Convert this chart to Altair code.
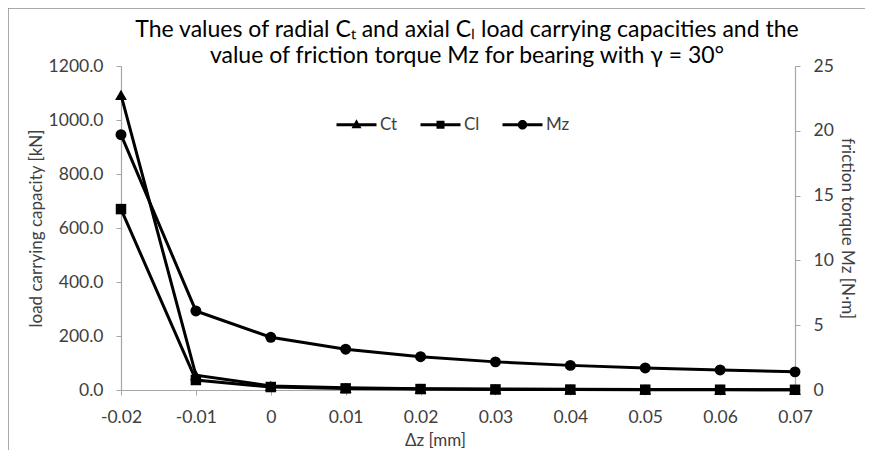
import altair as alt
import pandas as pd

# ---- data ----
x_labels = ["-0.02", "-0.01", "0", "0.01", "0.02", "0.03", "0.04", "0.05", "0.06", "0.07"]
ct_values = [1093, 55, 15, 8, 5, 3.5, 2.5, 2, 1.5, 1.2]
cl_values = [670, 37, 11, 6, 3.5, 2.2, 1.6, 1.2, 1.0, 0.8]
mz_values = [19.7, 6.1, 4.07, 3.15, 2.57, 2.17, 1.9, 1.7, 1.55, 1.4]
series_names = ["Ct", "Cl", "Mz"]
left_ticks = [0, 200, 400, 600, 800, 1000, 1200]
right_ticks = [0, 5, 10, 15, 20, 25]
title_lines = [
    "The values of radial Cₜ and axial  Cₗ load carrying capacities and the",
    "value of friction torque Mz for bearing with γ = 30°",
]

FONT = "Lato"
AXIS_GRAY = "#a6a6a6"
TEXT = "#404040"

left_df = pd.DataFrame({
    "dz": x_labels * 2,
    "series": ["Ct"] * len(x_labels) + ["Cl"] * len(x_labels),
    "value": ct_values + cl_values,
})
mz_df = pd.DataFrame({"dz": x_labels, "series": "Mz", "value": mz_values})
# rows only used to build the legend (placed outside the y domain and clipped)
legend_df = pd.DataFrame({"dz": x_labels[:3], "series": series_names, "value": [-5000] * 3})

x_enc = alt.X(
    "dz:N", sort=x_labels,
    scale=alt.Scale(type="point", padding=0),
    axis=alt.Axis(title="Δz [mm]", labelAngle=0, titlePadding=7, titleX=314),
)
y_left = alt.Y(
    "value:Q",
    scale=alt.Scale(domain=[0, 1200]),
    axis=alt.Axis(orient="left", values=left_ticks, format=".1f",
                  title="load carrying capacity [kN]", titlePadding=3),
)
y_right = alt.Y(
    "value:Q",
    scale=alt.Scale(domain=[0, 25]),
    axis=alt.Axis(orient="right", values=right_ticks, format="d",
                  title="friction torque Mz [N·m]", titlePadding=4),
)

left_lines = alt.Chart(left_df).mark_line(color="black", strokeWidth=3).encode(
    x=x_enc, y=y_left, detail="series:N")
pts_ct = alt.Chart(left_df).transform_filter(alt.datum.series == "Ct").mark_point(
    shape="triangle-up", filled=True, color="black", size=140, opacity=1).encode(x=x_enc, y=y_left)
pts_cl = alt.Chart(left_df).transform_filter(alt.datum.series == "Cl").mark_point(
    shape="square", filled=True, color="black", size=110, opacity=1).encode(x=x_enc, y=y_left)

# legend symbols: a filled bar (the line) plus the marker, all clockwise
legend_paths = [
    "M-4,-0.3H4V0.3H-4ZM0,-1.1L1,0.7H-1Z",
    "M-4,-0.3H4V0.3H-4ZM-0.8,-0.8H0.8V0.8H-0.8Z",
    "M-4,-0.3H4V0.3H-4ZM-0.95,0A0.95,0.95 0 1,1 0.95,0A0.95,0.95 0 1,1 -0.95,0Z",
]
legend_layer = alt.Chart(legend_df).mark_point(
    filled=True, color="black", clip=True, opacity=1
).encode(
    x=x_enc, y=y_left,
    shape=alt.Shape("series:N",
                    scale=alt.Scale(domain=series_names, range=legend_paths),
                    legend=alt.Legend(orient="none", legendX=227, legendY=50,
                                      direction="horizontal", title=None,
                                      symbolSize=100, symbolStrokeWidth=0,
                                      symbolFillColor="black",
                                      labelFont=FONT, labelFontSize=17, labelColor=TEXT,
                                      labelOffset=15, columnPadding=22, padding=0)),
)

left = alt.layer(left_lines, pts_ct, pts_cl, legend_layer)

mz_line = alt.Chart(mz_df).mark_line(color="black", strokeWidth=3).encode(x=x_enc, y=y_right)
pts_mz = alt.Chart(mz_df).mark_point(shape="circle", filled=True, color="black",
                                     size=120, opacity=1).encode(x=x_enc, y=y_right)
right = alt.layer(mz_line, pts_mz)

one = alt.Data(values=[{"k": 1}])
border_left = alt.Chart(one).mark_rule(color="#8c8c8c", strokeWidth=1.5).encode(
    x=alt.value(-113), y=alt.value(-58), y2=alt.value(440))
border_top = alt.Chart(one).mark_rule(color="#8c8c8c", strokeWidth=1.5).encode(
    x=alt.value(-113), x2=alt.value(800), y=alt.value(-58))
chart_title = alt.Chart(one).mark_text(
    font=FONT, fontSize=23, fontWeight="normal", color="black", align="center",
    baseline="alphabetic", lineHeight=26,
).encode(x=alt.value(346), y=alt.value(-29), text=alt.value(title_lines))

chart = alt.layer(left, right, border_left, border_top, chart_title).resolve_scale(
    y="independent", shape="independent"
).properties(
    width=674, height=324,
    autosize=alt.AutoSizeParams(type="none"),
    padding={"left": 113, "top": 58, "right": 70, "bottom": 62},
).configure_view(stroke=None).configure_axis(
    grid=False, domainColor=AXIS_GRAY, tickColor=AXIS_GRAY, domainWidth=1.2,
    labelColor=TEXT, titleColor=TEXT, labelFont=FONT, titleFont=FONT,
    labelFontSize=17.5, titleFontSize=17, titleFontWeight="normal",
    tickSize=5, labelPadding=13,
)

chart.save("out.html", embed_options={"renderer": "svg", "actions": False})
